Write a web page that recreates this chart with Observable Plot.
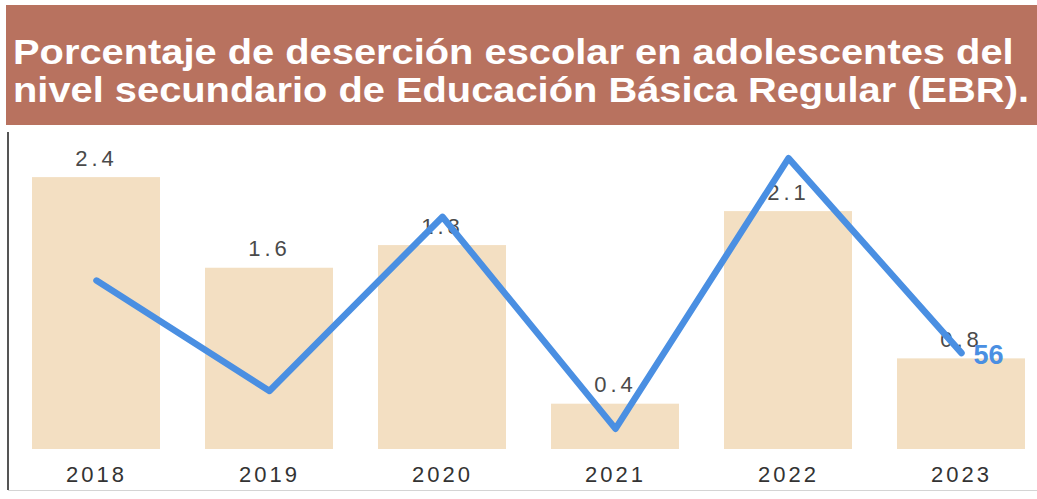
<!DOCTYPE html>
<html>
<head>
<meta charset="utf-8">
<script src="https://cdn.jsdelivr.net/npm/d3@7"></script>
<script src="https://cdn.jsdelivr.net/npm/@observablehq/plot@0.6"></script>
<style>
  html, body { margin: 0; padding: 0; background: #ffffff; width: 1037px; height: 499px; overflow: hidden; }
  body { position: relative; font-family: "Liberation Sans", Arial, sans-serif; }
  #banner {
    position: absolute; left: 6px; top: 5px; width: 1031px; height: 120px;
    background: #b8725f; overflow: hidden;
  }
  #title {
    position: absolute; left: 7px; top: 28px; margin: 0;
    font-family: "Liberation Sans", Arial, sans-serif; font-weight: bold;
    font-size: 35px; line-height: 38px; color: #ffffff; white-space: nowrap;
    transform: scaleX(1.138); transform-origin: left top;
  }
  #chart { position: absolute; left: 0; top: 125px; width: 1037px; height: 374px; }
  #leftRule { position: absolute; left: 7px; top: 132px; height: 358px; border-left: 2px solid #555; }
  #bottomRule { position: absolute; left: 8px; top: 490px; width: 1029px; border-top: 1px solid #d4d4d4; }
  g[aria-label="x-axis tick label"] text { letter-spacing: 3px; }
</style>
</head>
<body>
<div id="banner"><div id="title">Porcentaje de deserción escolar en adolescentes del<br>nivel secundario de Educación Básica Regular (EBR).</div></div>
<div id="chart"></div>
<div id="leftRule"></div>
<div id="bottomRule"></div>
<script>
// Data
const years = ["2018", "2019", "2020", "2021", "2022", "2023"];
const dropoutRates = [2.4, 1.6, 1.8, 0.4, 2.1, 0.8];          // bars (%)
const lineValues = [98, 34, 135, 12, 169, 56];                 // blue line (secondary, hidden axis)
const lineEndLabel = ["", "", "", "", "", "56"];

const yMax = 2.86;       // primary (hidden) axis maximum
const lineMax = 188;     // secondary (hidden) axis maximum

const data = years.map((year, i) => ({
  year,
  value: dropoutRates[i],
  line: lineValues[i],
  endLabel: lineEndLabel[i]
}));

const chart = Plot.plot({
  width: 1037,
  height: 374,
  marginTop: 0,
  marginBottom: 50,
  marginLeft: 30,
  marginRight: 11,
  style: { fontFamily: "'Liberation Sans', Arial, sans-serif", background: "transparent" },
  x: { type: "band", domain: years, paddingInner: 0.263, paddingOuter: 0, axis: null },
  y: { domain: [0, yMax], axis: null },
  marks: [
    Plot.barY(data, { x: "year", y: "value", fill: "#f3dfc2" }),
    Plot.text(data, {
      x: "year", y: "value", text: d => d.value.toFixed(1),
      dy: -19, fontSize: 22, fill: "#4a4a4a"
    }),
    Plot.axisX({ tickSize: 0, tickPadding: 17, fontSize: 22, color: "#333333", label: null }),
    Plot.line(data, {
      x: "year", y: d => d.line * yMax / lineMax,
      stroke: "#4a8fe2", strokeWidth: 6.5, strokeLinejoin: "round", strokeLinecap: "round"
    }),
    Plot.text(data.filter(d => d.endLabel), {
      x: "year", y: d => d.line * yMax / lineMax, text: "endLabel",
      textAnchor: "start", dx: 12, dy: 2, fontSize: 27, fontWeight: "bold", fill: "#4a8fe2"
    })
  ]
});
// spaced-out value labels as in the reference
const textGroups = chart.querySelectorAll('g[aria-label="text"]');
if (textGroups.length) {
  textGroups[0].querySelectorAll("text").forEach(t => t.style.letterSpacing = "4px");
}
document.getElementById("chart").appendChild(chart);
</script>
</body>
</html>
